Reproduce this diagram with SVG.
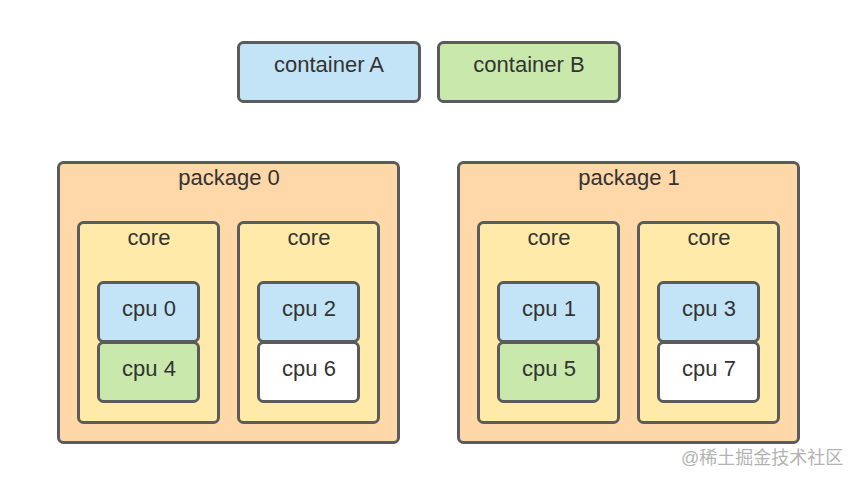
<svg xmlns="http://www.w3.org/2000/svg" width="858" height="484" viewBox="0 0 858 484">
<style>
.b{stroke:#5b5b5b;stroke-width:3}
.pkg{fill:#fed8a8}
.core{fill:#ffeaa9}
.blue{fill:#c3e4f6}
.green{fill:#c9e8ac}
.white{fill:#ffffff}
text{font-family:"Liberation Sans",Arial,sans-serif;font-size:22px;fill:#333;text-anchor:middle}
.wm{font-family:"Liberation Sans","Noto Sans CJK SC",sans-serif;font-size:18px;fill:#b3b3b3;text-anchor:start}
</style>
<rect width="858" height="484" fill="#fff"/>
<g id="containerA"><rect class="b blue" x="238.5" y="42.5" width="181" height="59" rx="5"/><text x="329" y="72">container A</text></g>
<g id="containerB"><rect class="b green" x="438.5" y="42.5" width="181" height="59" rx="5"/><text x="529" y="72">container B</text></g>
<g id="package0"><rect class="b pkg" x="58.5" y="162.5" width="340" height="280" rx="5"/><text x="229" y="185">package 0</text></g>
<g id="core0"><rect class="b core" x="78.5" y="222.5" width="140" height="200" rx="5"/><text x="149" y="245">core</text></g>
<g id="core1"><rect class="b core" x="238.5" y="222.5" width="140" height="200" rx="5"/><text x="309" y="245">core</text></g>
<g id="cpu0"><rect class="b blue" x="98.5" y="282.5" width="100" height="59" rx="5"/><text x="149" y="316">cpu 0</text></g>
<g id="cpu4"><rect class="b green" x="98.5" y="342.5" width="100" height="59" rx="5"/><text x="149" y="376">cpu 4</text></g>
<g id="cpu2"><rect class="b blue" x="258.5" y="282.5" width="100" height="59" rx="5"/><text x="309" y="316">cpu 2</text></g>
<g id="cpu6"><rect class="b white" x="258.5" y="342.5" width="100" height="59" rx="5"/><text x="309" y="376">cpu 6</text></g>
<g id="package1"><rect class="b pkg" x="458.5" y="162.5" width="340" height="280" rx="5"/><text x="629" y="185">package 1</text></g>
<g id="core2"><rect class="b core" x="478.5" y="222.5" width="140" height="200" rx="5"/><text x="549" y="245">core</text></g>
<g id="core3"><rect class="b core" x="638.5" y="222.5" width="140" height="200" rx="5"/><text x="709" y="245">core</text></g>
<g id="cpu1"><rect class="b blue" x="498.5" y="282.5" width="100" height="59" rx="5"/><text x="549" y="316">cpu 1</text></g>
<g id="cpu5"><rect class="b green" x="498.5" y="342.5" width="100" height="59" rx="5"/><text x="549" y="376">cpu 5</text></g>
<g id="cpu3"><rect class="b blue" x="658.5" y="282.5" width="100" height="59" rx="5"/><text x="709" y="316">cpu 3</text></g>
<g id="cpu7"><rect class="b white" x="658.5" y="342.5" width="100" height="59" rx="5"/><text x="709" y="376">cpu 7</text></g>
<g id="connectors"></g>
<text class="wm" x="681" y="464">@稀土掘金技术社区</text>
</svg>
